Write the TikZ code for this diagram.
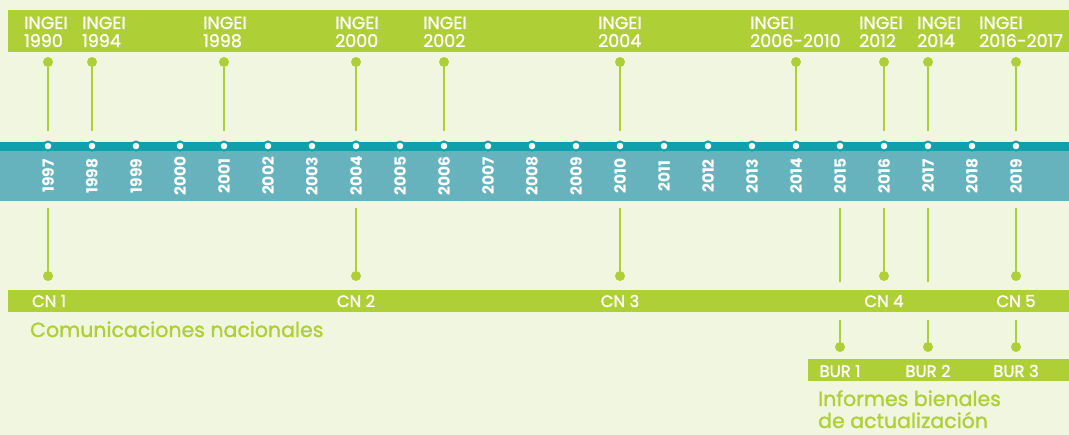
\documentclass[tikz,border=0pt]{standalone}
\usepackage{fontspec}
\setmainfont{Poppins}
\newfontfamily\med{Poppins}[FakeBold=1.3]
\definecolor{bg}{HTML}{F1F6E1}
\definecolor{lime}{HTML}{AFCF36}
\definecolor{tealdark}{HTML}{10A0A9}
\definecolor{teallight}{HTML}{66B3BE}
\begin{document}
\begin{tikzpicture}[x=1pt,y=-1pt,
 toplabel/.style={anchor=base west, text=white, font=\med\fontsize{17.5}{19}\selectfont, inner sep=0pt},
 yeardot/.style={circle, fill=white, draw=tealdark, line width=2pt, minimum size=9pt, inner sep=0pt},
 yearlabel/.style={rotate=90, text=white, font=\bfseries\fontsize{15.5}{15}\selectfont, inner sep=0pt},
 pin/.style={circle, fill=lime, minimum size=10pt, inner sep=0pt},
 stem/.style={draw=lime, line width=2pt},
 bandlabel/.style={text=white, font=\med\fontsize{16.5}{15}\selectfont, inner sep=0pt, anchor=base},
 heading/.style={text=lime, font=\med\fontsize{20.5}{24}\selectfont, anchor=base west, inner sep=0pt}]
\useasboundingbox (0,0) rectangle (1069,435);
\fill[bg] (0,0) rectangle (1069,435);
% bands
\fill[lime] (8,10) rectangle (1069,52);
\fill[tealdark] (0,142) rectangle (1069,151);
\fill[teallight] (0,151) rectangle (1069,201);
\fill[lime] (8,290) rectangle (1069,312);
\fill[lime] (808,359) rectangle (1069,381);
% years
\foreach \yr in {1997,...,2019}{
  \pgfmathsetmacro{\xx}{48+44*(\yr-1997)}
  \node[yeardot] (y\yr) at (\xx,146) {};
  \node[yearlabel] (l\yr) at (\xx,176) {\yr};
}
% top INGEI
\foreach \dx/\lx/\txt [count=\i] in {48/24/1990, 92/82/1994, 224/203/1998, 356/335/2000, 444/423/2002, 620/598/2004, 796/750/2006-2010, 884/859/2012, 928/917/2014, 1016/979/2016-2017}{
  \node[toplabel] (ti\i) at (\lx,29) {INGEI};
  \node[toplabel] (ty\i) at (\lx,47) {\txt};
  \node[pin] (tp\i) at (\dx,62) {};
  \coordinate (te\i) at (\dx,131);
  \draw[stem] (tp\i) -- (te\i);
}
% bottom CN stems
\foreach \dx [count=\i] in {48,356,620,884,1016}{
  \coordinate (bs\i) at (\dx,208);
  \node[pin] (bp\i) at (\dx,276) {};
  \draw[stem] (bs\i) -- (bp\i);
}
\foreach \dx [count=\i] in {840,928}{
  \coordinate (ns\i) at (\dx,208);
  \coordinate (ne\i) at (\dx,282);
  \draw[stem] (ns\i) -- (ne\i);
}
% CN labels
\node[bandlabel] (cn1) at (49,307) {CN 1};
\node[bandlabel] (cn2) at (356,307) {CN 2};
\node[bandlabel] (cn3) at (620,307) {CN 3};
\node[bandlabel] (cn4) at (884,307) {CN 4};
\node[bandlabel] (cn5) at (1016,307) {CN 5};
\node[heading] (hcn) at (30,337) {Comunicaciones nacionales};
% BUR stems
\foreach \dx [count=\i] in {840,928,1016}{
  \coordinate (us\i) at (\dx,320);
  \node[pin] (up\i) at (\dx,347) {};
  \draw[stem] (us\i) -- (up\i);
  \node[bandlabel] (bur\i) at (\dx,377) {BUR \i};
}
\node[heading] (hbur1) at (818,406) {Informes bienales};
\node[heading] (hbur2) at (818,428) {de actualización};
\end{tikzpicture}
\end{document}
